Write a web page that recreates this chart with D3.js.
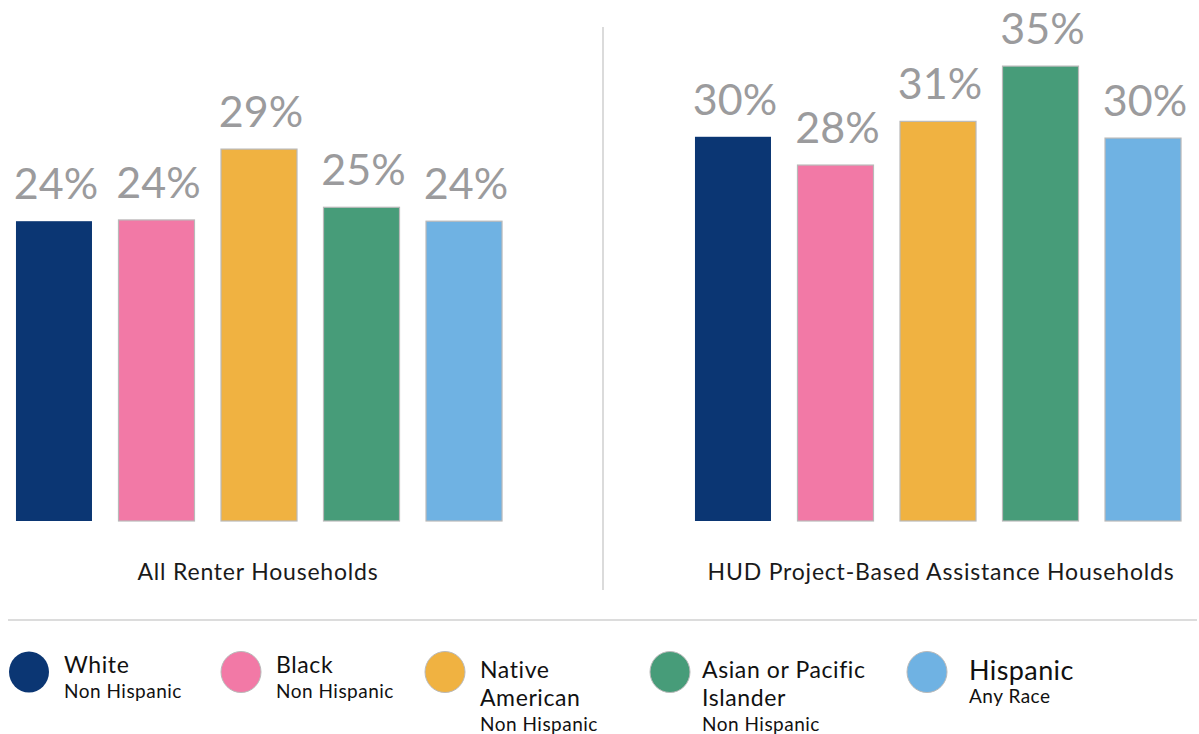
<!DOCTYPE html>
<html lang="en">
<head>
<meta charset="UTF-8">
<title>Renter households by race</title>
<script src="https://d3js.org/d3.v7.min.js"></script>
<style>
    html, body {
        margin: 0;
        background: #fff;
    }
    svg text {
        font-family: 'Source Sans Pro', Lato, sans-serif;
    }
</style>
</head>
<body>
<div id="chart"></div>
<script>

// data
var groups = ['White', 'Black', 'Native American', 'Asian or Pacific Islander', 'Hispanic'];
var subLabels = ['Non Hispanic', 'Non Hispanic', 'Non Hispanic', 'Non Hispanic', 'Any Race'];
var colors = ['#0b3673', '#f279a6', '#f0b241', '#479c79', '#6fb2e3'];

var panels = ['All Renter Households', 'HUD Project-Based Assistance Households'];
var allRenters = [23.7, 23.8, 29.4, 24.8, 23.7];
var hudAssisted = [29.9, 27.7, 31.1, 35.4, 29.8];

var width = 1199, height = 734;

var svg = d3.select('#chart')
    .append('svg')
    .attr('width', width)
    .attr('height', height);

var fmt = function(v) { return Math.round(v) + '%'; };

// each panel has its own vertical scale
var panelSetup = [
    {values: allRenters, range: [2.75, 515.25], pxPerPct: 12.65, titleX: 258},
    {values: hudAssisted, range: [681.75, 1194.25], pxPerPct: 12.85, titleX: 941}
];
var baseY = 521;

panelSetup.forEach(function(p, i) {
    var x = d3.scaleBand()
        .domain(groups)
        .range(p.range)
        .paddingInner(0.2585)
        .paddingOuter(0.129);

    var y = d3.scaleLinear()
        .domain([0, 40])
        .range([baseY, baseY - 40 * p.pxPerPct]);

    var g = svg.append('g');

    g.selectAll('.bar')
        .data(p.values)
        .enter()
        .append('rect')
        .attr('class', 'bar')
        .attr('x', function(d, j) { return x(groups[j]); })
        .attr('y', function(d) { return y(d); })
        .attr('width', x.bandwidth())
        .attr('height', function(d) { return baseY - y(d); })
        .attr('fill', function(d, j) { return colors[j]; })
        .attr('stroke', function(d, j) { return j == 0 ? 'none' : '#b9b9b9'; })
        .attr('stroke-width', 1.2);

    g.selectAll('.val')
        .data(p.values)
        .enter()
        .append('text')
        .attr('class', 'val')
        .attr('x', function(d, j) { return x(groups[j]) + x.bandwidth() / 2 + 2; })
        .attr('y', function(d) { return y(d) - 22; })
        .attr('text-anchor', 'middle')
        .style('font-size', '43px')
        .style('fill', '#9b9b9d')
        .text(fmt);

    g.append('text')
        .attr('x', p.titleX)
        .attr('y', 580)
        .attr('text-anchor', 'middle')
        .style('font-size', '23px')
        .style('letter-spacing', '0.8px')
        .style('fill', '#1a1a1a')
        .text(panels[i]);
});

// divider lines
svg.append('line')
    .attr('x1', 603).attr('x2', 603)
    .attr('y1', 27).attr('y2', 590)
    .attr('stroke', '#cfcfcf')
    .attr('stroke-width', 1.5);

svg.append('line')
    .attr('x1', 8).attr('x2', 1197)
    .attr('y1', 620).attr('y2', 620)
    .attr('stroke', '#dcdcdc')
    .attr('stroke-width', 2);

// legend
var legendX = [29, 241, 445, 670, 927];
var legendLines = [['White'], ['Black'], ['Native', 'American'], ['Asian or Pacific', 'Islander'], ['Hispanic']];

var legend = svg.selectAll('.legend')
    .data(groups)
    .enter()
    .append('g')
    .attr('class', 'legend')
    .attr('transform', function(d, i) { return 'translate(' + legendX[i] + ',672)'; });

legend.append('ellipse')
    .attr('rx', 20)
    .attr('ry', 20.5)
    .attr('fill', function(d, i) { return colors[i]; })
    .attr('stroke', function(d, i) { return i == 0 ? 'none' : '#b9b9b9'; })
    .attr('stroke-width', 1);

legend.each(function(d, i) {
    var el = d3.select(this);
    var big = i == 4;
    var lines = legendLines[i];
    var tx = big ? 42 : (i == 3 ? 32 : 35);
    var y0 = lines.length > 1 ? 6 : (big ? 8 : 1);
    lines.forEach(function(t, k) {
        el.append('text')
            .attr('x', tx)
            .attr('y', y0 + k * 28)
            .style('font-size', big ? '27px' : '23px')
            .style('letter-spacing', big ? '0.4px' : '0.6px')
            .style('fill', '#111')
            .text(t);
    });
    el.append('text')
        .attr('x', tx)
        .attr('y', y0 + (lines.length - 1) * 28 + (big ? 23 : 25))
        .style('font-size', '19px')
        .style('letter-spacing', '0.5px')
        .style('fill', '#111')
        .text(subLabels[i]);
});

</script>
</body>
</html>
